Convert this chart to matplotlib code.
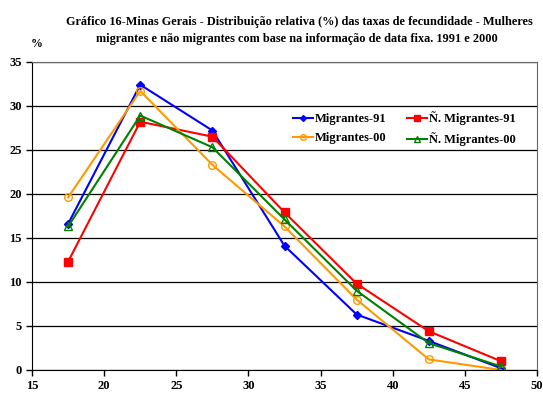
import matplotlib
matplotlib.use("Agg")
import matplotlib.pyplot as plt

idade = [17.5, 22.5, 27.5, 32.5, 37.5, 42.5, 47.5]
mig_91 = [16.6, 32.4, 27.2, 14.1, 6.3, 3.3, 0.2]
nmig_91 = [12.3, 28.2, 26.5, 17.9, 9.8, 4.4, 1.0]
mig_00 = [19.6, 31.7, 23.3, 16.3, 8.0, 1.2, 0.0]
nmig_00 = [16.3, 28.9, 25.3, 17.1, 9.0, 3.05, 0.4]

plt.rcParams['font.family'] = ['Liberation Serif', 'DejaVu Serif']
plt.rcParams['font.weight'] = 'bold'

fig = plt.figure(figsize=(5.43, 3.94), dpi=100)
ax = fig.add_axes([0.059, 0.061, 0.93, 0.782])

l1, = ax.plot(idade, mig_91, color='#0000ff', marker='D', markersize=4, lw=1.5, label='Migrantes-91')
l2, = ax.plot(idade, nmig_91, color='#ff0000', marker='s', markersize=6, lw=1.5, label='Ñ. Migrantes-91')
l3, = ax.plot(idade, mig_00, color='#ff9900', marker='o', markersize=5.5, markerfacecolor='none', lw=1.5, label='Migrantes-00')
l4, = ax.plot(idade, nmig_00, color='#008000', marker='^', markersize=5.5, markerfacecolor='none', lw=1.5, label='Ñ. Migrantes-00')

ax.set_xlim(15, 50)
ax.set_ylim(0, 35)
ax.set_xticks(range(15, 51, 5))
ax.set_yticks(range(0, 36, 5))
ax.yaxis.grid(True, color='black', lw=0.9)
ax.set_axisbelow(True)
ax.tick_params(labelsize=9, length=4, width=1, color='black')
for lab in ax.get_xticklabels() + ax.get_yticklabels():
    lab.set_fontweight('bold')
for s in ['top', 'right']:
    ax.spines[s].set_color('#666666')

ax.legend([l1, l3, l2, l4], [l1.get_label(), l3.get_label(), l2.get_label(), l4.get_label()],
          ncol=2, loc='upper left', bbox_to_anchor=(0.5396, 0.718), bbox_transform=fig.transFigure,
          frameon=False, borderpad=0, borderaxespad=0, markerscale=0.75,
          handlelength=1.6, handletextpad=0.16, columnspacing=1.6,
          labelspacing=0.6, prop={'weight': 'bold', 'size': 9})

fig.text(0.551, 0.9365, 'Gráfico 16-Minas Gerais - Distribuição relativa (%) das taxas de fecundidade - Mulheres',
         ha='center', va='baseline', fontsize=8.8, fontweight='bold')
fig.text(0.546, 0.894, 'migrantes e não migrantes com base na informação de data fixa. 1991 e 2000',
         ha='center', va='baseline', fontsize=8.8, fontweight='bold')
fig.text(0.068, 0.888, '%', ha='center', va='center', fontsize=8.5, fontweight='bold')

fig.savefig('out.png', dpi=100)
